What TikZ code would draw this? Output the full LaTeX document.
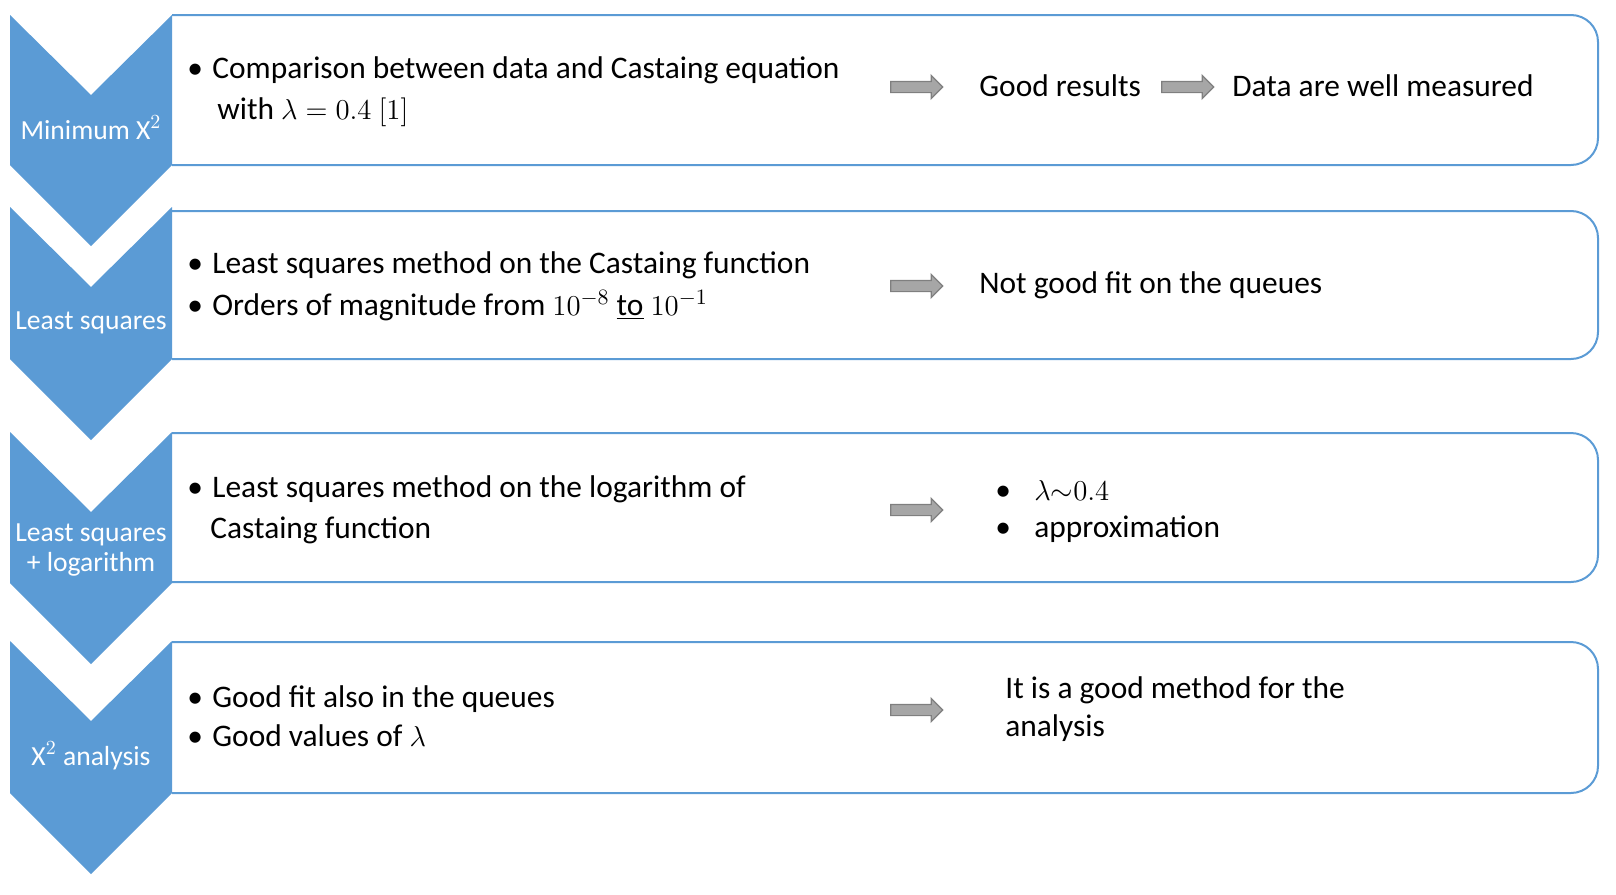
\documentclass[tikz,border=0pt]{standalone}
\usepackage{fontspec}
\setmainfont{Carlito}
\usetikzlibrary{shapes.arrows}
\definecolor{chevblue}{HTML}{5B9BD5}
\definecolor{arrowfill}{HTML}{A6A6A6}
\definecolor{arrowedge}{HTML}{7F7F7F}
\tikzset{
  chev/.style={fill=chevblue},
  panel/.style={draw=chevblue, line width=1pt, rounded corners=13.5pt},
  garrow/.style={single arrow, draw=arrowedge, fill=arrowfill, line width=0.6pt,
    minimum height=26pt, inner xsep=0pt, inner ysep=2.5pt, single arrow head extend=3pt},
  txt/.style={anchor=base west, inner sep=0pt, font=\fontsize{15.7}{19}\selectfont},
  lbl/.style={anchor=base, inner sep=0pt, text=white, font=\fontsize{13.8}{17}\selectfont},
}
\newcommand{\bul}{\makebox[12.5pt][l]{\textbullet}}
\begin{document}
\begin{tikzpicture}[x=0.5pt,y=-0.5pt]
	\useasboundingbox (0,0) rectangle (1616,894);
	
	\foreach \t/\b in {15/165,211/359,433/582,642/793}
		\draw[panel] (172,\t) -- (1598,\t) -- (1598,\b) -- (172,\b);
	\foreach \t/\b in {15/165,207/359,432/583,641/793}
		\fill[chev] (10,\t) -- (91,\t+80) -- (172,\t) -- (172,\b) -- (91,\b+81) -- (10,\b) -- cycle;
	
	\node[lbl] (l1) at (91,139) {Minimum $\mathrm{X}^2$};
	\node[lbl] (l2) at (91,329) {Least squares};
	\node[lbl] (l3a) at (91,541) {Least squares};
	\node[lbl] (l3b) at (91,571) {+ logarithm};
	\node[lbl] (l4) at (91,765) {$\mathrm{X}^2$ analysis};
	
	\node[txt] (b1a) at (187,78) {\bul Comparison between data and Castaing equation};
	\node[txt] (b1b) at (217,119) {with $\lambda = 0.4\ [1]$};
	\node[txt] (b2a) at (187,273) {\bul Least squares method on the Castaing function};
	\node[txt] (b2b) at (187,315) {\bul Orders of magnitude from $10^{-8}$ \underline{to} $10^{-1}$};
	\node[txt] (b3a) at (187,497) {\bul Least squares method on the logarithm of};
	\node[txt] (b3b) at (210,538) {Castaing function};
	\node[txt] (b4a) at (187,707) {\bul Good fit also in the queues};
	\node[txt] (b4b) at (187,746) {\bul Good values of $\lambda$};
	
	\node[garrow] (a1) at (914,87) {};
	\node[garrow] (a1b) at (1185,87) {};
	\node[garrow] (a2) at (914,286) {};
	\node[garrow] (a3) at (914,510) {};
	\node[garrow] (a4) at (914,710) {};
	
	\node[txt] (r1) at (979,96) {Good results};
	\node[txt] (r1b) at (1232,96) {Data are well measured};
	\node[txt] (r2) at (979,293) {Not good fit on the queues};
	\node[txt] (r3a) at (995,500) {\makebox[19.5pt][l]{\textbullet}$\lambda\mathord{\sim}0.4$};
	\node[txt] (r3b) at (995,537) {\makebox[19.5pt][l]{\textbullet}approximation};
	\node[txt] (r4a) at (1005,698) {It is a good method for the};
	\node[txt] (r4b) at (1005,736) {analysis};
\end{tikzpicture}
\end{document}
